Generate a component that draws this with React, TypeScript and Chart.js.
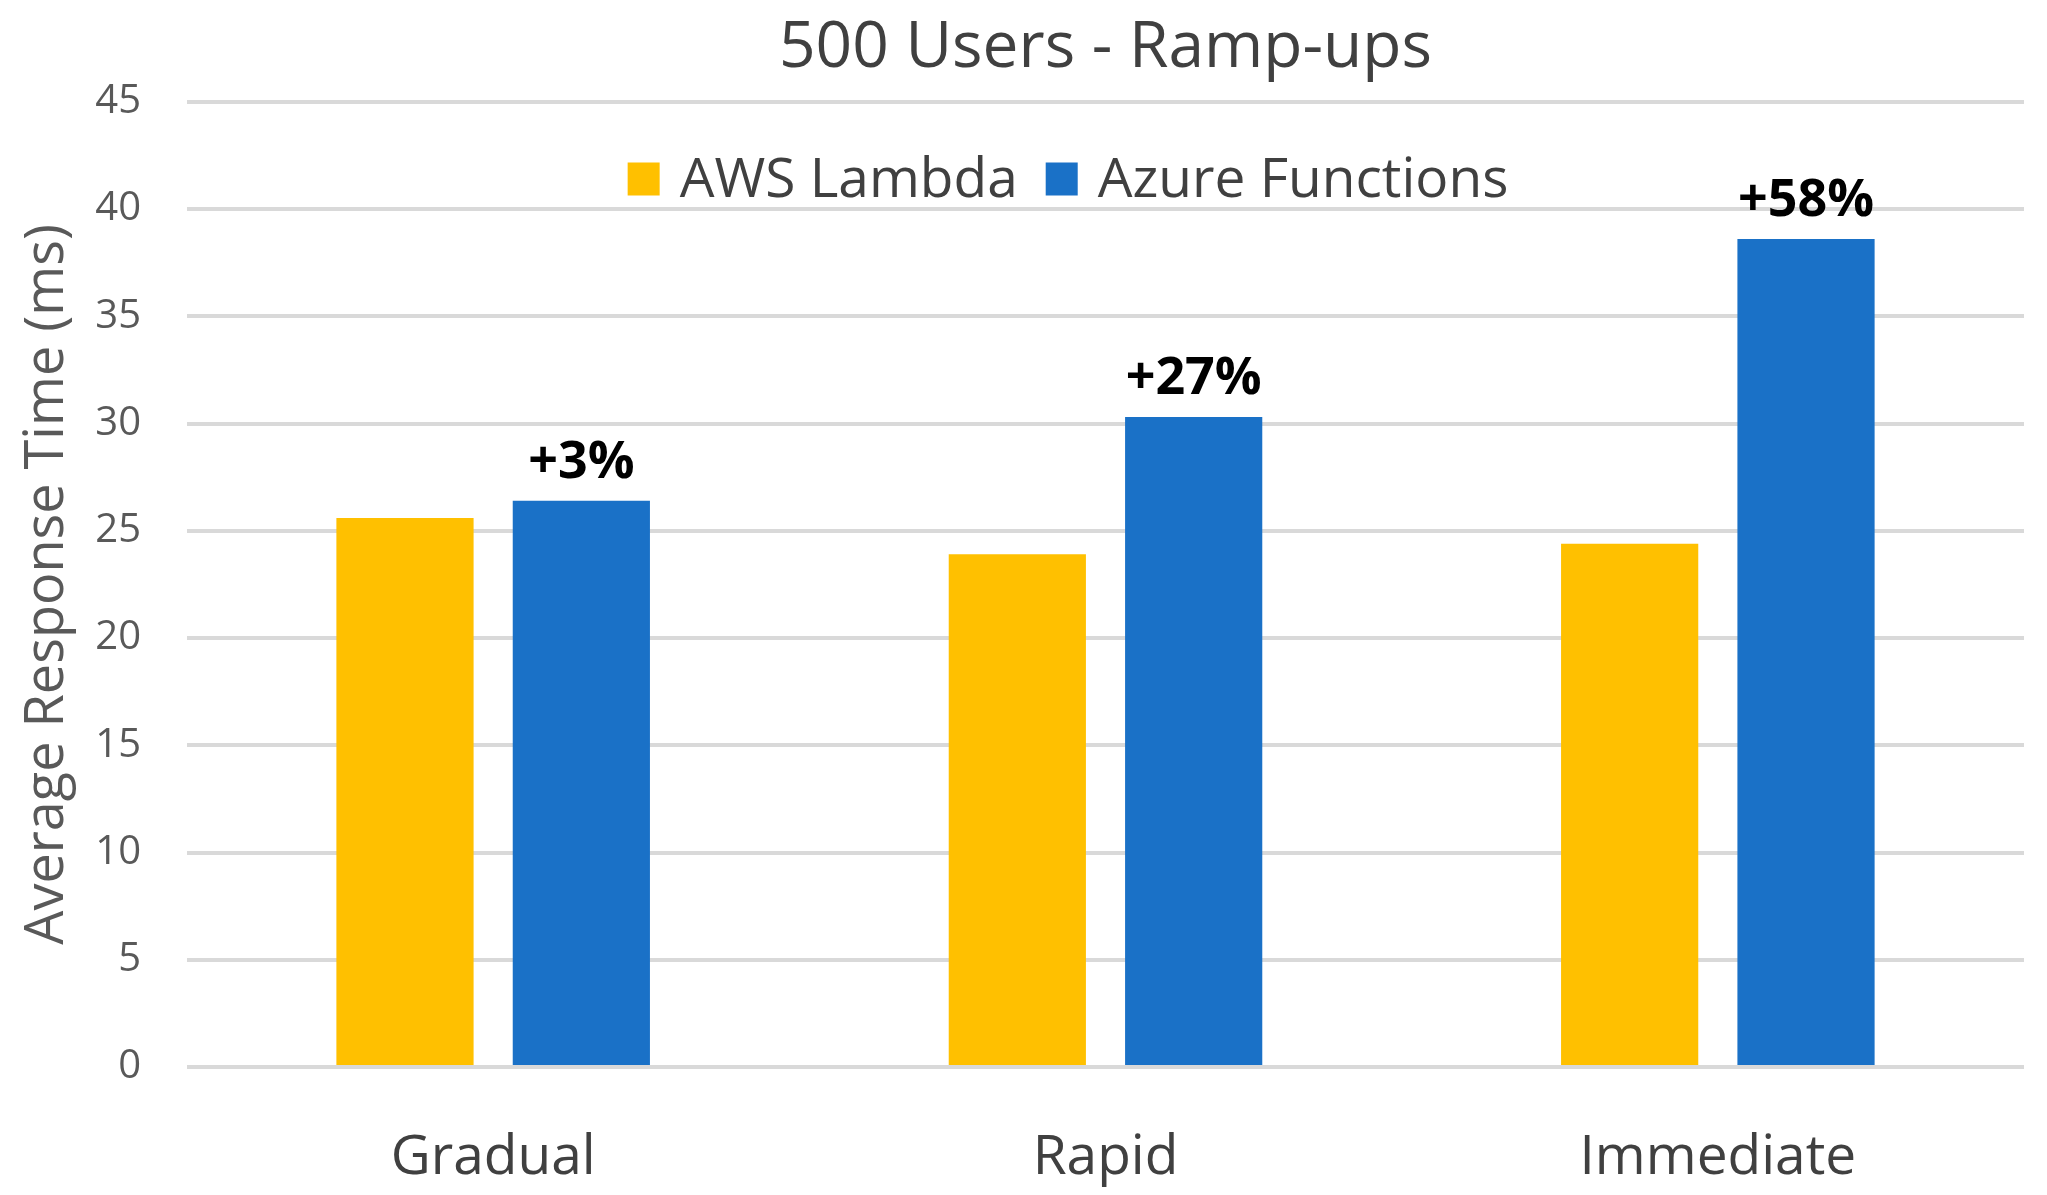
import { useEffect, useRef } from 'react';
import { Chart, registerables } from 'chart.js';
Chart.register(...registerables);

const CATEGORIES = ['Gradual', 'Rapid', 'Immediate'];
const AWS_VALUES = [25.6, 23.9, 24.4];
const AZURE_VALUES = [26.4, 30.3, 38.6];
const INCREASE_LABELS = ['+3%', '+27%', '+58%'];
const SERIES_NAMES = ['AWS Lambda', 'Azure Functions'];
const SERIES_COLORS = ['#FFC000', '#1A71C7'];

const FONT = "'Open Sans', 'Liberation Sans', sans-serif";

// legend sits inside the plot, under the 45 gridline
const insideLegend = {
  id: 'insideLegend',
  afterDraw(chart: Chart) {
    const { ctx } = chart;
    const boxW = 32;
    const boxH = 33;
    const gap = 20;
    const itemGap = 28;
    const cy = 179;
    ctx.save();
    ctx.font = `55px ${FONT}`;
    const items = chart.data.datasets.map((ds) => ({
      label: String(ds.label),
      color: String(ds.backgroundColor),
      w: ctx.measureText(String(ds.label)).width
    }));
    const total = items.reduce((s, it) => s + boxW + gap + it.w, 0) + itemGap * (items.length - 1);
    let x = 1068 - total / 2;
    ctx.textBaseline = 'middle';
    ctx.textAlign = 'left';
    items.forEach((it) => {
      ctx.fillStyle = it.color;
      ctx.fillRect(x, cy - boxH / 2, boxW, boxH);
      x += boxW + gap;
      ctx.fillStyle = '#404040';
      ctx.fillText(it.label, x, cy + 2);
      x += it.w + itemGap;
    });
    ctx.restore();
  }
};

// percentage increase above the Azure bars
const increaseLabels = {
  id: 'increaseLabels',
  afterDatasetsDraw(chart: Chart) {
    const { ctx } = chart;
    const meta = chart.getDatasetMeta(1);
    ctx.save();
    ctx.font = `bold 52px ${FONT}`;
    ctx.fillStyle = '#000';
    ctx.textAlign = 'center';
    ctx.textBaseline = 'bottom';
    meta.data.forEach((bar, i) => {
      ctx.fillText(INCREASE_LABELS[i], bar.x, bar.y - 12);
    });
    ctx.restore();
  }
};

export default function App() {
  const canvasRef = useRef<HTMLCanvasElement>(null);
  const chartRef = useRef<Chart | null>(null);

  useEffect(() => {
    if (!canvasRef.current) return;
    if (chartRef.current) chartRef.current.destroy();
    const ctx = canvasRef.current.getContext('2d');
    if (!ctx) return;

    chartRef.current = new Chart(ctx, {
      type: 'bar',
      data: {
        labels: CATEGORIES,
        datasets: [
          {
            label: SERIES_NAMES[0],
            data: AWS_VALUES,
            backgroundColor: SERIES_COLORS[0],
            categoryPercentage: 0.576,
            barPercentage: 0.778
          },
          {
            label: SERIES_NAMES[1],
            data: AZURE_VALUES,
            backgroundColor: SERIES_COLORS[1],
            categoryPercentage: 0.576,
            barPercentage: 0.778
          }
        ]
      },
      options: {
        responsive: false,
        animation: false,
        layout: {
          padding: { top: 0, right: 23, bottom: 0, left: 0 }
        },
        plugins: {
          legend: { display: false },
          tooltip: { enabled: false },
          title: {
            display: true,
            fullSize: false,
            text: '500 Users - Ramp-ups',
            color: '#404040',
            font: { family: FONT, size: 64, weight: 'normal' },
            padding: { top: 10, bottom: 15 }
          }
        },
        scales: {
          x: {
            grid: { display: false },
            border: { display: false },
            ticks: {
              color: '#404040',
              font: { family: FONT, size: 55 },
              padding: 50
            },
            afterFit: (scale: any) => {
              scale.height = 128;
            }
          },
          y: {
            min: 0,
            max: 45,
            grid: { color: '#d9d9d9', lineWidth: 4, drawTicks: false },
            border: { display: false },
            ticks: {
              stepSize: 5,
              color: '#595959',
              font: { family: FONT, size: 40 },
              padding: 46
            },
            title: {
              display: true,
              text: 'Average Response Time (ms)',
              color: '#595959',
              font: { family: FONT, size: 54 },
              padding: { top: 15, bottom: 10 }
            },
            afterFit: (scale: any) => {
              scale.width = 187;
            }
          }
        }
      },
      plugins: [insideLegend, increaseLabels]
    });

    return () => {
      if (chartRef.current) {
        chartRef.current.destroy();
        chartRef.current = null;
      }
    };
  }, []);

  return (
    <div style={{ position: 'absolute', left: 0, top: 0, width: 2047, height: 1195, background: '#fff' }}>
      <canvas ref={canvasRef} width={2047} height={1195} style={{ display: 'block' }} />
    </div>
  );
}
